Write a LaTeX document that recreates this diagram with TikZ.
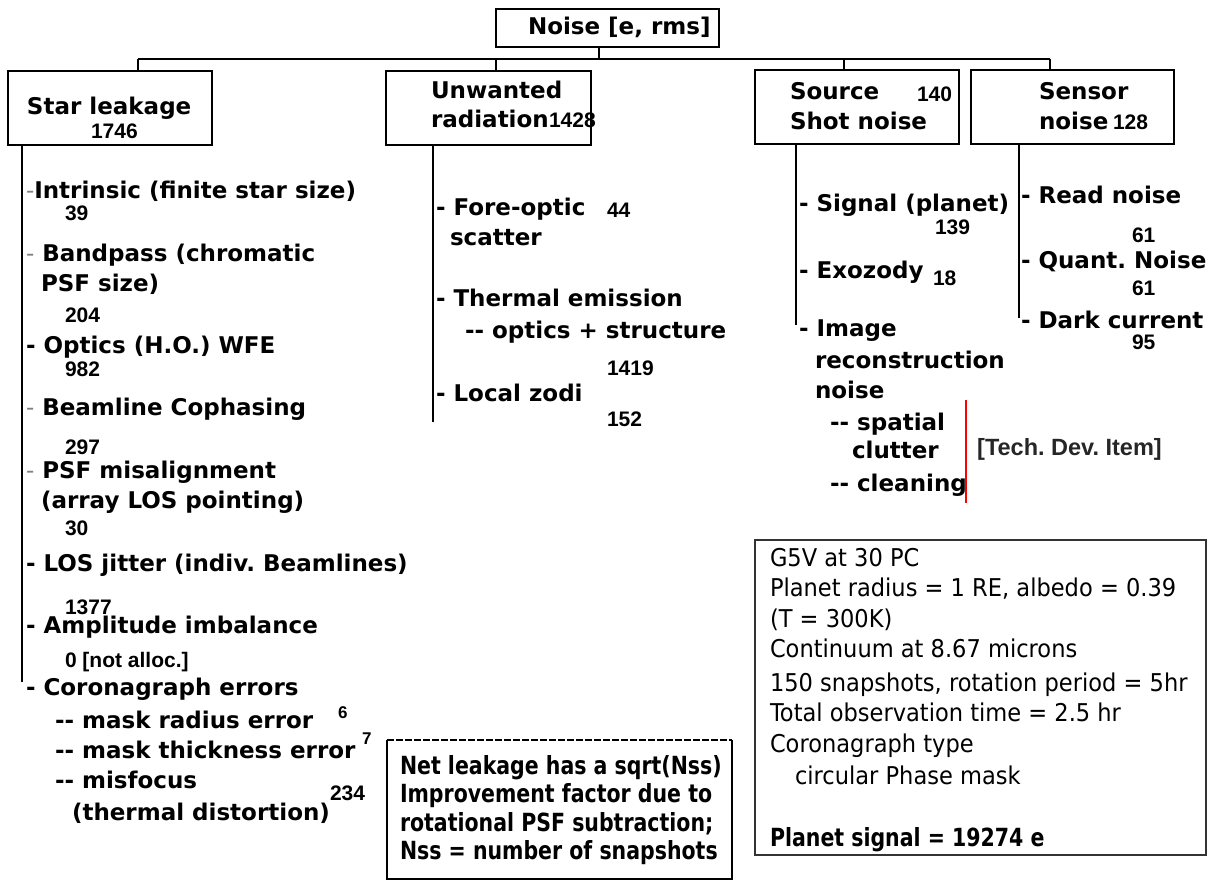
\documentclass[tikz,border=0pt]{standalone}
\usepackage{fontspec}
\setmainfont{DejaVu Sans}
\newfontfamily\vfont{DejaVu Sans}
\newfontfamily\nfont{Liberation Sans}
\newfontfamily\tfont{DejaVu Sans}[FakeStretch=0.92]
\newfontfamily\kfont{DejaVu Sans}[FakeStretch=0.82]
\newcommand\mainf{\vfont\bfseries\fontsize{23}{23}\selectfont}
\newcommand\numf{\nfont\bfseries\fontsize{21}{21}\selectfont}
\newcommand\supf{\nfont\bfseries\fontsize{17}{17}\selectfont}
\newcommand\infof{\tfont\fontsize{24.5}{24.5}\selectfont}
\newcommand\netf{\kfont\bfseries\fontsize{25}{25}\selectfont}
\newcommand\techf{\nfont\bfseries\fontsize{23.5}{23.5}\selectfont}
\newcommand\grdash{{\mdseries\color{gray}-}}
\frenchspacing
\begin{document}
\begin{tikzpicture}[x=1pt,y=-1pt,
  boxn/.style={draw=black, line width=1.5pt, rectangle, inner sep=0pt, outer sep=0pt},
  lbl/.style={anchor=base west, inner sep=0pt, outer sep=0pt, font=\mainf},
  num/.style={anchor=base west, inner sep=0pt, outer sep=0pt, font=\numf},
  supn/.style={anchor=base west, inner sep=0pt, outer sep=0pt, font=\supf},
  info/.style={anchor=base west, inner sep=0pt, outer sep=0pt, font=\infof},
  netl/.style={anchor=base west, inner sep=0pt, outer sep=0pt, font=\netf},
  conn/.style={draw=black, line width=1.3pt},
]
\useasboundingbox (0,0) rectangle (1207,880);

% ---------- top boxes ----------
\node[boxn, minimum width=223pt, minimum height=38pt] (noise) at (607.5,28) {};
\node[boxn, minimum width=204pt, minimum height=74pt] (star) at (110,108) {};
\node[boxn, minimum width=205pt, minimum height=74pt] (unw) at (488.5,108) {};
\node[boxn, minimum width=204pt, minimum height=74pt] (src) at (857,107) {};
\node[boxn, minimum width=203pt, minimum height=74pt] (sen) at (1072.5,107) {};

\node[lbl] (noiset) at (528,35) {Noise [e, rms]};
\node[lbl] (start) at (27,115) {Star leakage};
\node[num] (starn) at (91,139) {1746};
\node[lbl] (unwt1) at (431,99) {Unwanted};
\node[lbl] (unwt2) at (431,128) {radiation};
\node[num] (unwn) at (549,128) {1428};
\node[lbl] (srct1) at (790,100) {Source};
\node[num] (srcn) at (917,102) {140};
\node[lbl] (srct2) at (790,130) {Shot noise};
\node[lbl] (sent1) at (1039,100) {Sensor};
\node[lbl] (sent2) at (1039,130) {noise};
\node[num] (senn) at (1113,130) {128};

% ---------- tree connectors ----------
\coordinate (busL) at (138,59);
\coordinate (busR) at (1050,59);
\coordinate (stem) at (599,47);
\coordinate (srcdrop) at (844,59);
\draw[conn] (busL) -- (busR);
\draw[conn] (stem) -- (stem |- busL);
\draw[conn] (busL) -- (busL |- star.north);
\draw[conn] (noise.west |- busL) -- (noise.west |- unw.north);
\draw[conn] (srcdrop) -- (srcdrop |- src.north);
\draw[conn] (busR) -- (busR |- sen.north);

% ---------- column lines ----------
\coordinate (starL) at (22,682);
\coordinate (unwL) at (433,422);
\coordinate (srcL) at (796,325);
\coordinate (senL) at (1019,318);
\draw[conn] (starL |- star.south) -- (starL);
\draw[conn] (unwL |- unw.south) -- (unwL);
\draw[conn] (srcL |- src.south) -- (srcL);
\draw[conn] (senL |- sen.south) -- (senL);

% ---------- star leakage items ----------
\node[lbl] (s1) at (26,198) {\grdash Intrinsic (finite star size)};
\node[num] (s1n) at (65,220) {39};
\node[lbl] (s2) at (26,261) {\grdash\ Bandpass (chromatic};
\node[lbl] (s2b) at (41,291) {PSF size)};
\node[num] (s2n) at (65,322) {204};
\node[lbl] (s3) at (26,353) {- Optics (H.O.) WFE};
\node[num] (s3n) at (65,376) {982};
\node[lbl] (s4) at (26,415) {\grdash\ Beamline Cophasing};
\node[num] (s4n) at (65,454) {297};
\node[lbl] (s5) at (26,478) {\grdash\ PSF misalignment};
\node[lbl] (s5b) at (41,508) {(array LOS pointing)};
\node[num] (s5n) at (65,535) {30};
\node[lbl] (s6) at (26,571) {- LOS jitter (indiv. Beamlines)};
\node[num] (s6n) at (65,614) {1377};
\node[lbl] (s7) at (26,633) {- Amplitude imbalance};
\node[num] (s7n) at (65,667) {0 [not alloc.]};
\node[lbl] (s8) at (26,695) {- Coronagraph errors};
\node[lbl] (s8a) at (55,728) {-- mask radius error};
\node[supn] (s8an) at (338,718) {6};
\node[lbl] (s8b) at (55,758) {-- mask thickness error};
\node[supn] (s8bn) at (362,744) {7};
\node[lbl] (s8c) at (55,788) {-- misfocus};
\node[lbl] (s8d) at (72,820) {(thermal distortion)};
\node[num] (s8dn) at (330,800) {234};

% ---------- unwanted radiation items ----------
\node[lbl] (u1) at (436,215) {- Fore-optic};
\node[num] (u1n) at (607,217) {44};
\node[lbl] (u1b) at (450,245) {scatter};
\node[lbl] (u2) at (436,306) {- Thermal emission};
\node[lbl] (u2b) at (465,338) {-- optics + structure};
\node[num] (u2n) at (607,375) {1419};
\node[lbl] (u3) at (436,401) {- Local zodi};
\node[num] (u3n) at (607,426) {152};

% ---------- source shot noise items ----------
\node[lbl] (c1) at (799,211) {- Signal (planet)};
\node[num] (c1n) at (935,234) {139};
\node[lbl] (c2) at (799,278) {- Exozody};
\node[num] (c2n) at (933,285) {18};
\node[lbl] (c3) at (799,336) {- Image};
\node[lbl] (c3b) at (815,368) {reconstruction};
\node[lbl] (c3c) at (815,398) {noise};
\node[lbl] (c3d) at (830,430) {-- spatial};
\node[lbl] (c3e) at (852,458) {clutter};
\node[lbl] (c3f) at (830,491) {-- cleaning};
\coordinate (redT) at (966,400);
\coordinate (redB) at (966,503);
\draw[red, line width=1.2pt] (redT) -- (redB);
\node[anchor=base west, inner sep=0pt, font=\techf, text=black!85] (tech) at (977,455) {[Tech. Dev. Item]};

% ---------- sensor noise items ----------
\node[lbl] (n1) at (1021,203) {- Read noise};
\node[num] (n1n) at (1132,242) {61};
\node[lbl] (n2) at (1021,268) {- Quant. Noise};
\node[num] (n2n) at (1132,295) {61};
\node[lbl] (n3) at (1021,328) {- Dark current};
\node[num] (n3n) at (1132,349) {95};

% ---------- info box ----------
\node[draw=black!80, line width=1.5pt, rectangle, inner sep=0pt, minimum width=451pt, minimum height=315pt] (infobox) at (980.5,697.5) {};
\node[info] (i1) at (770,566) {G5V at 30 PC};
\node[info] (i2) at (770,596) {Planet radius = 1 RE, albedo = 0.39};
\node[info] (i3) at (770,627) {(T = 300K)};
\node[info] (i4) at (770,657) {Continuum at 8.67 microns};
\node[info] (i5) at (770,691) {150 snapshots, rotation period = 5hr};
\node[info] (i6) at (770,721) {Total observation time = 2.5 hr};
\node[info] (i7) at (770,752) {Coronagraph type};
\node[info] (i8) at (795,784) {circular Phase mask};
\node[netl] (i9) at (770,846) {Planet signal = 19274 e};

% ---------- net leakage box ----------
\node[inner sep=0pt, outer sep=0pt, minimum width=345pt, minimum height=139pt] (netbox) at (559.5,809.5) {};
\draw[black, line width=2pt, dash pattern=on 7pt off 2pt] (netbox.north west) -- (netbox.north east);
\draw[black, line width=2pt] (netbox.north east) -- (netbox.south east) -- (netbox.south west) -- (netbox.north west);
\node[netl] (k1) at (400,774) {Net leakage has a sqrt(Nss)};
\node[netl] (k2) at (400,802) {Improvement factor due to};
\node[netl] (k3) at (400,831) {rotational PSF subtraction;};
\node[netl] (k4) at (400,859) {Nss = number of snapshots};
\end{tikzpicture}
\end{document}
